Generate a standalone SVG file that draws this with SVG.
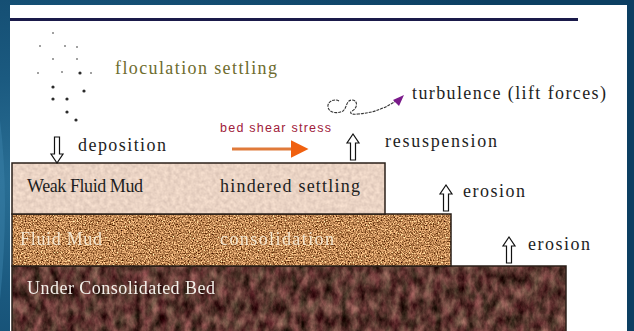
<svg xmlns="http://www.w3.org/2000/svg" width="634" height="331" viewBox="0 0 634 331">
  <defs>
    <radialGradient id="bgGlow" cx="0.05" cy="0.55" r="0.9">
      <stop offset="0" stop-color="#2a6f95"/>
      <stop offset="0.35" stop-color="#1b5a80"/>
      <stop offset="1" stop-color="#0c3f62"/>
    </radialGradient>
    <!-- speckle textures for the sediment layers -->
    <filter id="texWeak" x="0" y="0" width="1" height="1" color-interpolation-filters="sRGB">
      <feTurbulence type="fractalNoise" baseFrequency="0.25" numOctaves="3" seed="3" result="n"/>
      <feColorMatrix in="n" type="matrix" values="0.2 0 0 0 0.82  0.2 0 0 0 0.73  0.18 0 0 0 0.68  0 0 0 0 1" result="c"/>
      <feComposite in="c" in2="SourceGraphic" operator="in"/>
    </filter>
    <filter id="texFluid" x="0" y="0" width="1" height="1" color-interpolation-filters="sRGB">
      <feTurbulence type="fractalNoise" baseFrequency="0.75" numOctaves="2" seed="7" result="n"/>
      <feColorMatrix in="n" type="matrix" values="1.5 0 0 0 0.0  1.4 0 0 0 -0.17  1.2 0 0 0 -0.27  0 0 0 0 1" result="c"/>
      <feComposite in="c" in2="SourceGraphic" operator="in"/>
    </filter>
    <filter id="texBed" x="0" y="0" width="1" height="1" color-interpolation-filters="sRGB">
      <feTurbulence type="fractalNoise" baseFrequency="0.12 0.07" numOctaves="4" seed="11" result="n"/>
      <feColorMatrix in="n" type="matrix" values="0.7 -0.1 0 0 0.06  0.55 0.1 0 0 -0.11  0.5 0 0 0 -0.06  0 0 0 0 1" result="c"/>
      <feComposite in="c" in2="SourceGraphic" operator="in"/>
    </filter>
    <filter id="soft" x="-5%" y="-20%" width="110%" height="140%">
      <feGaussianBlur stdDeviation="0.4"/>
    </filter>
    <marker id="orangeHead" markerWidth="6" markerHeight="6" refX="0.5" refY="3" orient="auto" markerUnits="strokeWidth">
      <path d="M0,0 L6,3 L0,6 Z" fill="#f0600f"/>
    </marker>
  </defs>

  <style>
    .lbl { font-family: "Liberation Serif", "DejaVu Serif", "Times New Roman", serif; font-size: 18px; fill: #1e1e1e; }
    .olive { fill: #6e6c2e; }
    .light { fill: #f3e6cf; }
    .white { fill: #f4f0ea; }
    .red { font-family: "Liberation Sans", Arial, sans-serif; font-size: 12.5px; fill: #a0203a; }
    .hollow { fill: #ffffff; stroke: #111111; stroke-width: 1.2; stroke-linejoin: miter; }
    .layer { stroke: #2a1f18; stroke-width: 1.5; }
    .dot { fill: #2b2b2b; }
  </style>

  <!-- slide background and white panel -->
  <rect x="0" y="0" width="634" height="331" fill="url(#bgGlow)"/>
  <path d="M0,120 Q10,200 0,300 L0,120 Z" fill="#3a80a8" opacity="0.5"/>
  <rect x="10" y="5" width="617" height="326" fill="#ffffff"/>
  <rect x="10" y="18" width="568" height="3" fill="#1a1a4a"/>

  <!-- falling flocs -->
  <g id="flocs">
    <circle class="dot" cx="53" cy="33" r="0.8"/>
    <circle class="dot" cx="40" cy="46" r="0.8"/>
    <circle class="dot" cx="65" cy="46" r="0.8"/>
    <circle class="dot" cx="77" cy="47" r="0.8"/>
    <circle class="dot" cx="53" cy="59" r="0.8"/>
    <circle class="dot" cx="77" cy="59" r="0.8"/>
    <circle class="dot" cx="38" cy="73" r="0.8"/>
    <circle class="dot" cx="62" cy="72" r="0.8"/>
    <circle class="dot" cx="91" cy="73" r="0.8"/>
    <circle class="dot" cx="80" cy="73" r="1.6"/>
    <circle class="dot" cx="53" cy="87" r="1.6"/>
    <circle class="dot" cx="84" cy="91" r="1.6"/>
    <circle class="dot" cx="53" cy="99" r="1.6"/>
    <circle class="dot" cx="67" cy="99" r="1.6"/>
    <circle class="dot" cx="67" cy="112" r="1.6"/>
    <circle class="dot" cx="76" cy="120" r="1.6"/>
  </g>

  <!-- sediment layers -->
  <g id="bed">
    <rect x="12" y="266" width="554" height="70" fill="#54382f"/>
    <rect x="12" y="266" width="554" height="70" filter="url(#texBed)"/>
    <rect class="layer" x="12" y="266" width="554" height="70" fill="none"/>
    <text class="lbl white" x="27" y="294" textLength="188" lengthAdjust="spacing" filter="url(#soft)">Under Consolidated Bed</text>
  </g>
  <g id="fluid-mud">
    <rect x="12" y="214" width="439" height="52" fill="#b07843"/>
    <rect x="12" y="214" width="439" height="52" filter="url(#texFluid)"/>
    <rect class="layer" x="12" y="214" width="439" height="52" fill="none" stroke-width="1"/>
    <text class="lbl light" x="20" y="245" textLength="82" lengthAdjust="spacing" filter="url(#soft)">Fluid Mud</text>
    <text class="lbl light" x="220" y="245" textLength="114" lengthAdjust="spacing" filter="url(#soft)">consolidation</text>
  </g>
  <g id="weak-fluid-mud">
    <rect x="12" y="163" width="373" height="51" fill="#ecd5c5"/>
    <rect x="12" y="163" width="373" height="51" filter="url(#texWeak)" opacity="0.85"/>
    <rect class="layer" x="12" y="163" width="373" height="51" fill="none"/>
    <text class="lbl" x="27" y="192" textLength="116" lengthAdjust="spacing">Weak Fluid Mud</text>
    <text class="lbl" x="220" y="192" textLength="140" lengthAdjust="spacing">hindered settling</text>
  </g>

  <!-- process labels -->
  <g id="labels">
    <text class="lbl olive" x="115" y="74" textLength="162" lengthAdjust="spacing">floculation settling</text>
    <text class="lbl" x="412" y="99" textLength="194" lengthAdjust="spacing">turbulence (lift forces)</text>
    <text class="red" x="220" y="132" textLength="111" lengthAdjust="spacing">bed shear stress</text>
    <text class="lbl" x="78" y="151" textLength="88" lengthAdjust="spacing">deposition</text>
    <text class="lbl" x="385" y="147" textLength="112" lengthAdjust="spacing">resuspension</text>
    <text class="lbl" x="463" y="197" textLength="62" lengthAdjust="spacing">erosion</text>
    <text class="lbl" x="528" y="250" textLength="62" lengthAdjust="spacing">erosion</text>
  </g>

  <!-- arrows -->
  <g id="connectors">
    <!-- deposition (down) -->
    <path class="hollow" d="M54.5,137 H59.5 V154 H63 L57,163 L51,154 H54.5 Z"/>
    <!-- resuspension (up) -->
    <path class="hollow" d="M350.5,160 H355.5 V143 H359 L353,134 L347,143 H350.5 Z"/>
    <!-- erosion of fluid mud -->
    <path class="hollow" d="M443.5,211 H448.5 V194 H452 L446,185 L440,194 H443.5 Z"/>
    <!-- erosion of bed -->
    <path class="hollow" d="M506.5,263 H511.5 V246 H515 L509,237 L503,246 H506.5 Z"/>
    <!-- bed shear stress -->
    <line x1="232" y1="149" x2="292" y2="149" stroke="#e07a3a" stroke-width="3" marker-end="url(#orangeHead)"/>
    <!-- turbulence curl -->
    <path d="M339,101 C334,98 327,102 328,107 C329,113 337,114 343,111 C347,108 346,100 352,100 C358,100 358,108 352,111 C349,113 351,115 358,114 C371,113 382,110 396,101" fill="none" stroke="#333" stroke-width="1.1" stroke-dasharray="3,1"/>
    <path d="M404,95 L393,100 L399,106 Z" fill="#7a1a8a"/>
  </g>
</svg>
